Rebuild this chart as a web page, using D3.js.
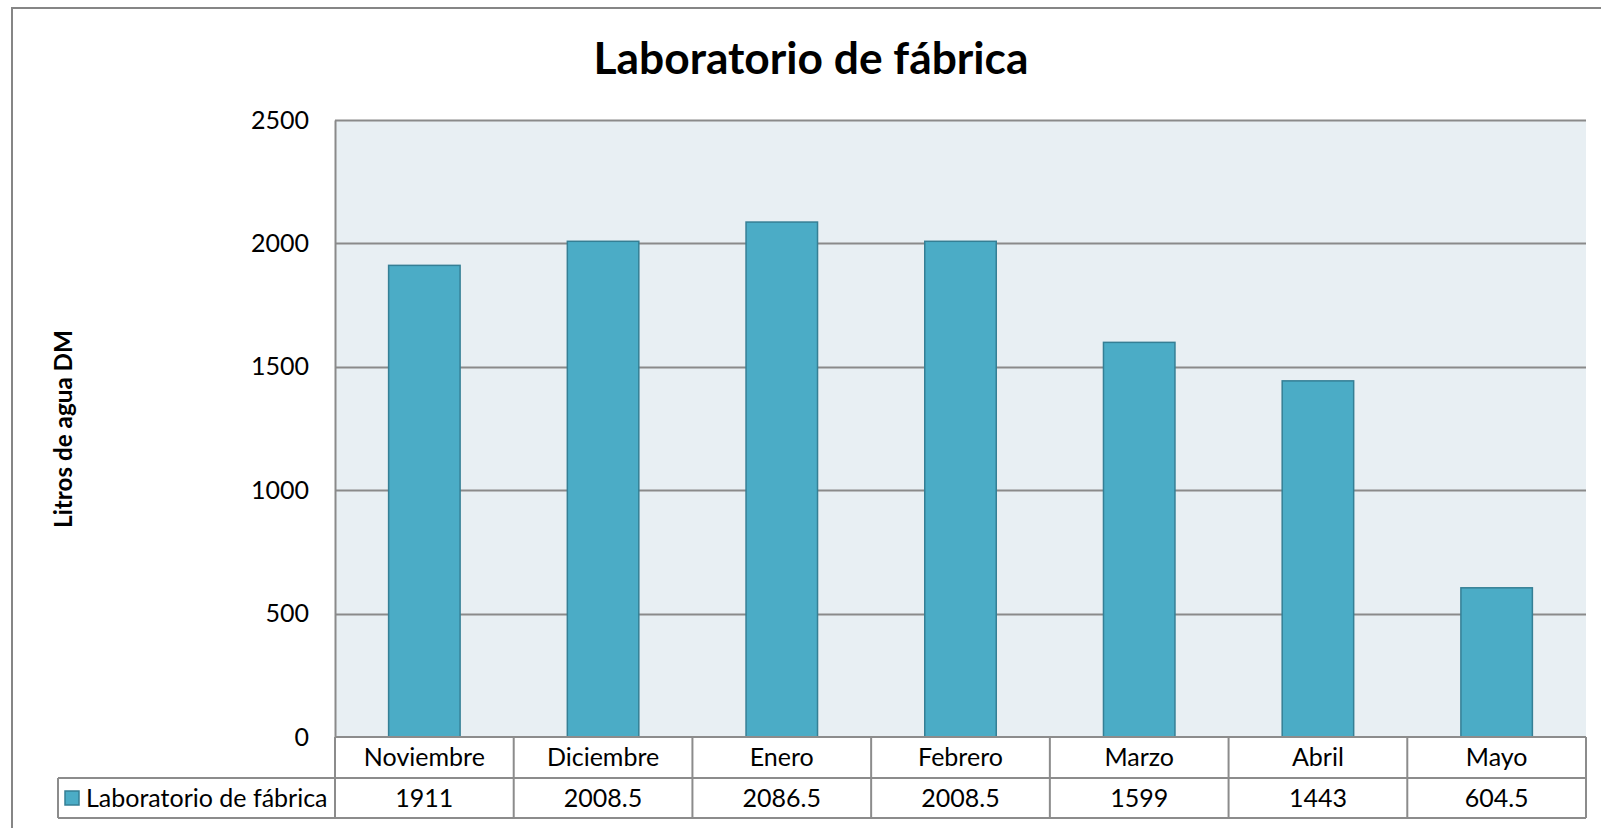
<!DOCTYPE html>
<html>
<head>
<meta charset="utf-8">
<script src="https://cdn.jsdelivr.net/npm/d3@7"></script>
<style>
  html, body { margin: 0; padding: 0; background: #ffffff; }
  svg { display: block; }
  text { font-family: Lato, "Open Sans", "DejaVu Sans", sans-serif; fill: #000; }
</style>
</head>
<body>
<svg id="chart" width="1601" height="828"></svg>
<script>
const chartTitle = "Laboratorio de fábrica";
const yAxisTitle = "Litros de agua DM";
const seriesName = "Laboratorio de fábrica";
const categories = ["Noviembre", "Diciembre", "Enero", "Febrero", "Marzo", "Abril", "Mayo"];
const values = [1911, 2008.5, 2086.5, 2008.5, 1599, 1443, 604.5];
const valueLabels = ["1911", "2008.5", "2086.5", "2008.5", "1599", "1443", "604.5"];
const yTicks = [0, 500, 1000, 1500, 2000, 2500];

const W = 1601, H = 828;
const plot = { left: 335, right: 1586, top: 120, bottom: 737 };
const row1Bottom = 778, row2Bottom = 818, legendLeft = 58;

const gridColor = "#8a8a8a";
const tableColor = "#8c8c8c";
const barFill = "#4bacc6";
const barStroke = "#357f95";
const plotBg = "#e8eff3";
const labelSize = "25px";

const svg = d3.select("#chart");

// Outer chart border (right/bottom edges lie beyond the window)
svg.append("rect")
  .attr("x", 12).attr("y", 8)
  .attr("width", 1640).attr("height", 860)
  .attr("fill", "#fff").attr("stroke", "#868686").attr("stroke-width", 2);

const x = d3.scaleBand()
  .domain(categories)
  .range([plot.left, plot.right])
  .paddingInner(0.6)
  .paddingOuter(0.3);

const y = d3.scaleLinear().domain([0, 2500]).range([plot.bottom, plot.top]);

// Plot background
svg.append("rect")
  .attr("x", plot.left).attr("y", plot.top)
  .attr("width", plot.right - plot.left).attr("height", plot.bottom - plot.top)
  .attr("fill", plotBg);

// Gridlines
svg.append("g").selectAll("line")
  .data(yTicks.filter(d => d > 0))
  .join("line")
  .attr("x1", plot.left).attr("x2", plot.right)
  .attr("y1", d => Math.round(y(d)) + 0.5).attr("y2", d => Math.round(y(d)) + 0.5)
  .attr("stroke", gridColor).attr("stroke-width", 2);

// Y axis
const yAxis = d3.axisLeft(y).tickValues(yTicks).tickSize(0).tickPadding(26).tickFormat(d3.format("d"));
const gy = svg.append("g").attr("transform", `translate(${plot.left},0)`).call(yAxis);
gy.select(".domain").attr("stroke", gridColor).attr("stroke-width", 2);
gy.selectAll("text").style("font-size", labelSize).style("font-family", "Lato, sans-serif").attr("fill", "#000");

// Bars
svg.append("g").selectAll("rect")
  .data(values)
  .join("rect")
  .attr("x", (d, i) => x(categories[i]))
  .attr("y", d => y(d))
  .attr("width", x.bandwidth())
  .attr("height", d => y(0) - y(d))
  .attr("fill", barFill)
  .attr("stroke", barStroke)
  .attr("stroke-width", 1.5);

// Data table
const step = x.step();
const colEdges = categories.map((c, i) => plot.left + i * step).concat([plot.right]);
const tbl = svg.append("g").attr("stroke", tableColor).attr("stroke-width", 2);
tbl.append("line").attr("x1", plot.left).attr("x2", plot.right).attr("y1", plot.bottom).attr("y2", plot.bottom);
tbl.append("line").attr("x1", legendLeft).attr("x2", plot.right).attr("y1", row1Bottom).attr("y2", row1Bottom);
tbl.append("line").attr("x1", legendLeft).attr("x2", plot.right).attr("y1", row2Bottom).attr("y2", row2Bottom);
tbl.append("line").attr("x1", legendLeft).attr("x2", legendLeft).attr("y1", row1Bottom).attr("y2", row2Bottom);
tbl.selectAll("line.col").data(colEdges).join("line").attr("class", "col")
  .attr("x1", d => d).attr("x2", d => d)
  .attr("y1", plot.bottom).attr("y2", row2Bottom);

// Category labels
svg.append("g").selectAll("text")
  .data(categories)
  .join("text")
  .attr("x", d => x(d) + x.bandwidth() / 2)
  .attr("y", (plot.bottom + row1Bottom) / 2)
  .attr("dy", "0.35em")
  .attr("text-anchor", "middle")
  .style("font-size", labelSize)
  .text(d => d);

// Value labels
svg.append("g").selectAll("text")
  .data(valueLabels)
  .join("text")
  .attr("x", (d, i) => x(categories[i]) + x.bandwidth() / 2)
  .attr("y", (row1Bottom + row2Bottom) / 2)
  .attr("dy", "0.35em")
  .attr("text-anchor", "middle")
  .style("font-size", labelSize)
  .text(d => d);

// Legend key in table
svg.append("rect")
  .attr("x", 65).attr("y", 791).attr("width", 14).attr("height", 14)
  .attr("fill", barFill).attr("stroke", barStroke).attr("stroke-width", 1.5);
svg.append("text")
  .attr("x", 86).attr("y", (row1Bottom + row2Bottom) / 2)
  .attr("dy", "0.35em")
  .style("font-size", labelSize)
  .text(seriesName);

function fitWidth(sel, target) {
  const w = sel.node().getComputedTextLength();
  const fs = parseFloat(sel.style("font-size"));
  if (w > 0) sel.style("font-size", (fs * target / w).toFixed(2) + "px");
}

// Title
const title = svg.append("text")
  .attr("x", 811).attr("y", 74)
  .attr("text-anchor", "middle")
  .style("font-weight", "bold")
  .style("font-size", "46px")
  .text(chartTitle);
fitWidth(title, 435);

// Y axis title
const yt = svg.append("text")
  .attr("transform", "translate(72,429) rotate(-90)")
  .attr("text-anchor", "middle")
  .style("font-weight", "bold")
  .style("font-size", "24px")
  .text(yAxisTitle);
fitWidth(yt, 198);
</script>
</body>
</html>
